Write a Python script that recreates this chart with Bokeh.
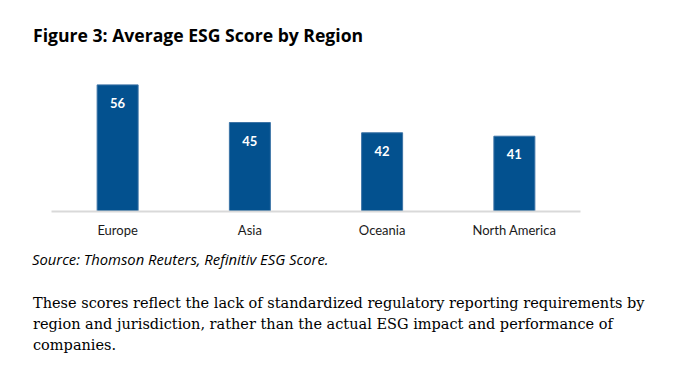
from bokeh.plotting import figure
from bokeh.models import ColumnDataSource, FactorRange, Range1d, LabelSet, Div
from bokeh.layouts import column
from bokeh.core.properties import value
from bokeh.embed import file_html
from bokeh.resources import INLINE

regions = ["Europe", "Asia", "Oceania", "North America"]
scores = [56, 45, 42, 41]
score_labels = ["56", "45", "42", "41"]

title_text = "Figure 3: Average ESG Score by Region"
source_text = "Source: Thomson Reuters, Refinitiv ESG Score."
para_lines = [
    "These scores reflect the lack of standardized regulatory reporting requirements by",
    "region and jurisdiction, rather than the actual ESG impact and performance of",
    "companies.",
]

BAR = "#03518f"
SANS = "Lato"
W = 664

src = ColumnDataSource(dict(region=regions, score=scores, label=score_labels))

p = figure(width=W, height=193, x_range=FactorRange(*regions),
           y_range=Range1d(19, 64), output_backend="svg", toolbar_location=None,
           min_border_left=51, min_border_right=84, min_border_top=5, min_border_bottom=34,
           margin=0)
p.outline_line_color = None
p.grid.visible = False
p.yaxis.visible = False
p.background_fill_color = "white"
p.border_fill_color = "white"

p.vbar(x="region", top="score", bottom=19, width=0.31, source=src,
       fill_color=BAR, line_color="#3c73a6", line_width=1)

p.add_layout(LabelSet(x="region", y="score", text="label", source=src,
                      y_offset=-18, text_align="center", text_baseline="middle",
                      text_color="white", text_font=value(SANS), text_font_style="bold",
                      text_font_size="13px"))

xa = p.xaxis[0]
xa.axis_line_color = "#d9d9d9"
xa.axis_line_width = 2
xa.major_tick_line_color = None
xa.minor_tick_line_color = None
xa.major_label_text_font = SANS
xa.major_label_text_font_size = "13px"
xa.major_label_text_color = "#1a1a1a"
xa.major_label_standoff = 4

title_div = Div(width=W, height=52, margin=0, text=(
    '<div style="position:relative;width:%dpx;height:52px;">'
    '<div style="position:absolute;left:33px;top:27.4px;white-space:nowrap;'
    'font-family:\'Open Sans\';font-weight:bold;font-size:17.6px;line-height:17.6px;color:#000;">%s</div>'
    '</div>') % (W, title_text))

para_html = "".join(
    '<div style="position:absolute;left:33px;top:%.1fpx;white-space:nowrap;'
    'font-family:\'DejaVu Serif\';font-size:14.5px;line-height:21px;color:#000;">%s</div>'
    % (47.8 + 20.9 * i, line) for i, line in enumerate(para_lines))

foot_div = Div(width=W, height=113, margin=0, text=(
    '<div style="position:relative;width:%dpx;height:113px;">'
    '<div style="position:absolute;left:32px;top:6.9px;white-space:nowrap;'
    'font-family:\'Open Sans\';font-style:italic;font-size:14.8px;line-height:14.8px;color:#000;">%s</div>'
    '%s</div>') % (W, source_text, para_html))

layout = column(title_div, p, foot_div, spacing=0)

open("out.html", "w").write(file_html(layout, INLINE))
